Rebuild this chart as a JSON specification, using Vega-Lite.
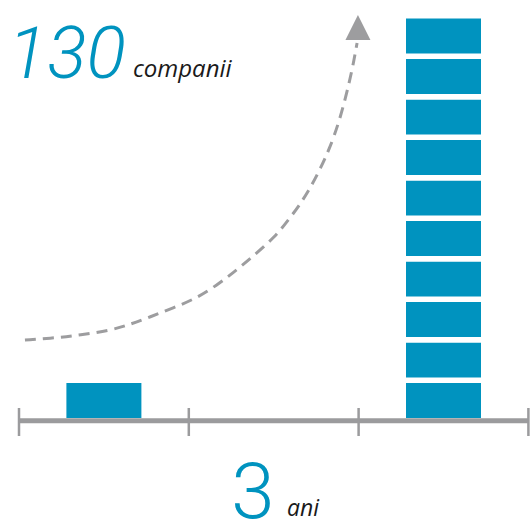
{
  "$schema": "https://vega.github.io/schema/vega-lite/v6.json",
  "width": 530,
  "height": 519,
  "padding": 0,
  "autosize": {"type": "none"},
  "background": "white",
  "config": {"view": {"stroke": null}},
  "layer": [
    {
      "data": {"values": [
        {"perioada": "început", "an": 0.5, "de_la": 0, "pana_la": 13},
        {"perioada": "după 3 ani", "an": 2.5, "de_la": 0, "pana_la": 13},
        {"perioada": "după 3 ani", "an": 2.5, "de_la": 13, "pana_la": 26},
        {"perioada": "după 3 ani", "an": 2.5, "de_la": 26, "pana_la": 39},
        {"perioada": "după 3 ani", "an": 2.5, "de_la": 39, "pana_la": 52},
        {"perioada": "după 3 ani", "an": 2.5, "de_la": 52, "pana_la": 65},
        {"perioada": "după 3 ani", "an": 2.5, "de_la": 65, "pana_la": 78},
        {"perioada": "după 3 ani", "an": 2.5, "de_la": 78, "pana_la": 91},
        {"perioada": "după 3 ani", "an": 2.5, "de_la": 91, "pana_la": 104},
        {"perioada": "după 3 ani", "an": 2.5, "de_la": 104, "pana_la": 117},
        {"perioada": "după 3 ani", "an": 2.5, "de_la": 117, "pana_la": 130}
      ]},
      "mark": {"type": "bar", "width": 80.5, "color": "#0093BF", "stroke": "white", "strokeWidth": 5.5, "cornerRadius": 0},
      "encoding": {
        "x": {"field": "an", "type": "quantitative", "scale": {"domain": [-0.1119, 3.0094], "zero": false, "nice": false, "padding": 0}, "axis": null},
        "y": {"field": "de_la", "type": "quantitative", "scale": {"domain": [-31.54, 135.06], "zero": false, "nice": false, "padding": 0}, "axis": null},
        "y2": {"field": "pana_la"}
      }
    },
    {
      "data": {"values": [{"axa": "ani"}]},
      "mark": {"type": "rule", "color": "#9B9B9D", "strokeWidth": 5},
      "encoding": {
        "x": {"datum": 0, "type": "quantitative"},
        "x2": {"datum": 3},
        "y": {"datum": 0, "type": "quantitative"}
      }
    },
    {
      "data": {"values": [{"an": 0}, {"an": 1}, {"an": 2}, {"an": 3}]},
      "mark": {"type": "rule", "color": "#9B9B9D", "strokeWidth": 2.5},
      "encoding": {
        "x": {"field": "an", "type": "quantitative"},
        "y": {"datum": 4.1, "type": "quantitative"},
        "y2": {"datum": -4.9}
      }
    },
    {
      "data": {"values": [
        {"t": 0.035, "v": 25.92},
        {"t": 0.212, "v": 26.56},
        {"t": 0.359, "v": 27.52},
        {"t": 0.536, "v": 28.97},
        {"t": 0.654, "v": 30.9},
        {"t": 0.771, "v": 33.3},
        {"t": 0.907, "v": 36.19},
        {"t": 1.048, "v": 39.4},
        {"t": 1.166, "v": 43.57},
        {"t": 1.26, "v": 47.43},
        {"t": 1.36, "v": 51.92},
        {"t": 1.508, "v": 58.98},
        {"t": 1.596, "v": 65.08},
        {"t": 1.673, "v": 70.86},
        {"t": 1.731, "v": 76.31},
        {"t": 1.773, "v": 80.81},
        {"t": 1.826, "v": 86.91},
        {"t": 1.89, "v": 96.54},
        {"t": 1.949, "v": 109.38},
        {"t": 1.973, "v": 115.8},
        {"t": 1.991, "v": 121.26}
      ]},
      "mark": {"type": "line", "color": "#9D9D9F", "strokeWidth": 3, "strokeDash": [11, 7], "interpolate": "basis"},
      "encoding": {
        "x": {"field": "t", "type": "quantitative"},
        "y": {"field": "v", "type": "quantitative"}
      }
    },
    {
      "data": {"values": [{"sageata": "creștere"}]},
      "mark": {"type": "point", "shape": "M0,-1L-1,1L1,1Z", "size": 625, "filled": true, "color": "#9D9D9F", "opacity": 1},
      "encoding": {
        "x": {"datum": 1.996, "type": "quantitative"},
        "y": {"datum": 126.2, "type": "quantitative"}
      }
    },
    {
      "data": {"values": [{"eticheta": "130"}]},
      "mark": {"type": "text", "align": "left", "baseline": "alphabetic", "font": "Roboto", "fontStyle": "italic", "fontWeight": 300, "fontSize": 73, "color": "#0093BF"},
      "encoding": {
        "x": {"datum": -0.065, "type": "quantitative"},
        "y": {"datum": 110, "type": "quantitative"},
        "text": {"field": "eticheta"}
      }
    },
    {
      "data": {"values": [{"eticheta": "companii"}]},
      "mark": {"type": "text", "align": "left", "baseline": "alphabetic", "font": "Open Sans", "fontStyle": "italic", "fontSize": 24, "color": "#1A1A1A"},
      "encoding": {
        "x": {"datum": 0.671, "type": "quantitative"},
        "y": {"datum": 110.3, "type": "quantitative"},
        "text": {"field": "eticheta"}
      }
    },
    {
      "data": {"values": [{"eticheta": "3"}]},
      "mark": {"type": "text", "align": "center", "baseline": "alphabetic", "font": "Roboto", "fontWeight": 300, "fontSize": 78, "color": "#0093BF"},
      "encoding": {
        "x": {"datum": 1.378, "type": "quantitative"},
        "y": {"datum": -31.2, "type": "quantitative"},
        "text": {"field": "eticheta"}
      }
    },
    {
      "data": {"values": [{"eticheta": "ani"}]},
      "mark": {"type": "text", "align": "left", "baseline": "alphabetic", "font": "Open Sans", "fontStyle": "italic", "fontSize": 23, "color": "#1A1A1A"},
      "encoding": {
        "x": {"datum": 1.578, "type": "quantitative"},
        "y": {"datum": -30.6, "type": "quantitative"},
        "text": {"field": "eticheta"}
      }
    }
  ]
}
